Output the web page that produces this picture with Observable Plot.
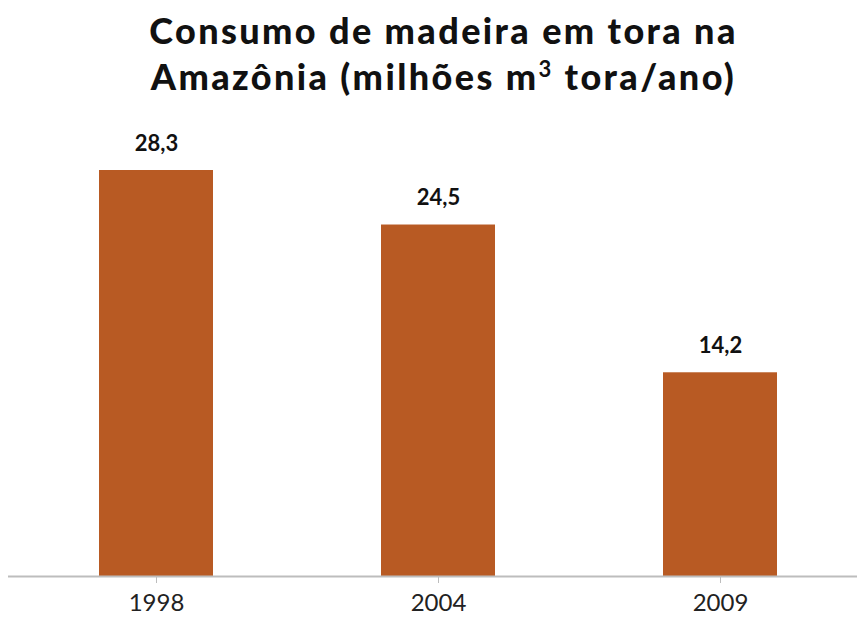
<!DOCTYPE html>
<html><head><meta charset="utf-8">
<script src="https://cdn.jsdelivr.net/npm/d3@7"></script>
<script src="https://cdn.jsdelivr.net/npm/@observablehq/plot@0.6"></script>
<style>
html,body{margin:0;padding:0;background:#fff;}
#title{height:110px;margin:0;padding-top:7px;padding-left:30px;box-sizing:border-box;text-align:center;font-family:Lato,"DejaVu Sans",sans-serif;font-weight:900;font-size:36px;line-height:46px;color:#111;letter-spacing:2.4px;}
#title sup{font-size:22px;line-height:0;vertical-align:super;font-weight:700;}
</style></head>
<body>
<div id="title">Consumo de madeira em tora na<br>Amazônia (milhões m<sup>3</sup> tora/ano)</div>
<div id="chart"></div>
<script>
const years = ["1998", "2004", "2009"];
const values = [28.3, 24.5, 14.2];
const data = years.map((y, i) => ({year: y, value: values[i]}));
const fmt = v => v.toFixed(1).replace(".", ",");

const plot = Plot.plot({
  width: 857,
  height: 513,
  marginTop: 60,
  marginBottom: 47,
  marginLeft: 8,
  marginRight: 0,
  style: {fontFamily: "Lato, 'DejaVu Sans', sans-serif", background: "#fff"},
  x: {domain: years, range: [14, 861], paddingInner: 0.596, paddingOuter: 0.298, label: null},
  y: {domain: [0, 28.3], axis: null},
  marks: [
    Plot.barY(data, {x: "year", y: "value", fill: "#B85A23"}),
    Plot.text(data, {x: "year", y: "value", text: d => fmt(d.value), dy: -27, fontSize: 22, fontWeight: "bold", fill: "#111", style: "letter-spacing:1px"}),
    Plot.ruleY([0], {stroke: "#bdbdbd", strokeWidth: 2}),
    Plot.axisX({tickSize: 7, stroke: "#bdbdbd", tickPadding: 10, fontSize: 24, fill: "#222", color: "#222", label: null})
  ]
});
document.getElementById("chart").appendChild(plot);
</script>
</body></html>
